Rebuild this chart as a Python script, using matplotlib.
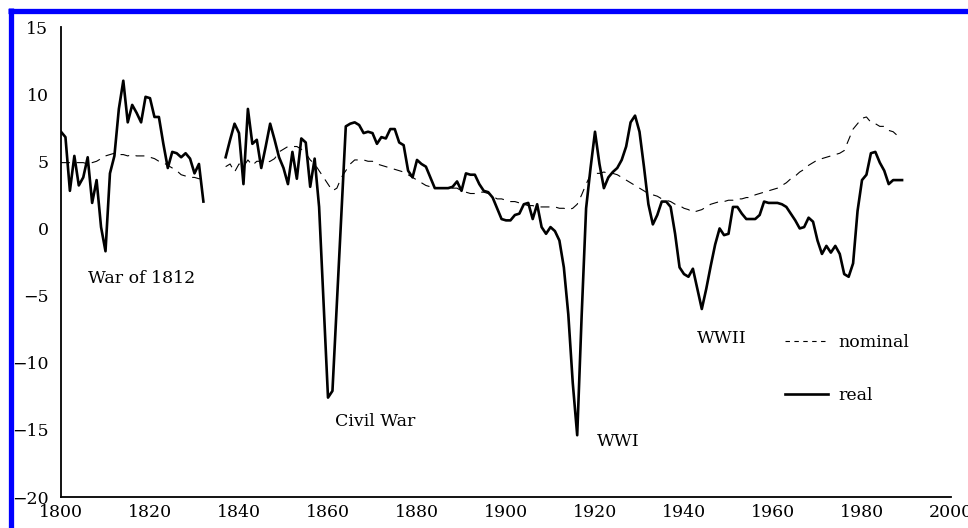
import numpy as np
import matplotlib
matplotlib.use("Agg")
import matplotlib.pyplot as plt
from matplotlib.lines import Line2D

# Early period, 1800-1832
years_early = list(range(1800, 1833))
real_early = [7.2, 6.8, 2.8, 5.4, 3.2, 3.8, 5.3, 1.9, 3.6, 0.1,
              -1.7, 4.1, 5.4, 8.9, 11.0, 7.9, 9.2, 8.6, 7.9, 9.8,
              9.7, 8.3, 8.3, 6.3, 4.5, 5.7, 5.6, 5.3, 5.6, 5.2,
              4.1, 4.8, 2.0]
nominal_early = [4.9, 4.9, 4.9, 4.9, 4.9, 4.9, 4.8, 4.9, 5.0, 5.2,
                 5.4, 5.5, 5.6, 5.5, 5.5, 5.4, 5.5, 5.4, 5.4, 5.4,
                 5.3, 5.2, 5.0, 4.9, 4.7, 4.5, 4.3, 4.0, 3.9, 3.8,
                 3.8, 3.7, 3.7]

# Later period: real 1837-1989, nominal 1837-1988
years_real_late = list(range(1837, 1990))
real_late = [5.3, 6.6, 7.8,                                          # 1837-39
             7.1, 3.3, 8.9, 6.3, 6.6, 4.5, 6.1, 7.8, 6.6, 5.3,       # 1840s
             4.5, 3.3, 5.7, 3.7, 6.7, 6.4, 3.1, 5.2, 1.6, -5.5,      # 1850s
             -12.6, -12.1, -5.5, 1.0, 7.6, 7.8, 7.9, 7.7, 7.1, 7.2,  # 1860s
             7.1, 6.3, 6.8, 6.7, 7.4, 7.4, 6.4, 6.2, 4.3, 3.8,       # 1870s
             5.1, 4.8, 4.6, 3.8, 3.0, 3.0, 3.0, 3.0, 3.1, 3.5,       # 1880s
             2.8, 4.1, 4.0, 4.0, 3.3, 2.8, 2.7, 2.3, 1.5, 0.7,       # 1890s
             0.6, 0.6, 1.0, 1.1, 1.8, 1.9, 0.7, 1.8, 0.1, -0.4,      # 1900s
             0.1, -0.2, -0.9, -2.9, -6.4, -11.5, -15.4, -6.5, 1.5, 4.5,  # 1910s
             7.2, 4.8, 3.0, 3.8, 4.2, 4.5, 5.1, 6.1, 7.9, 8.4,       # 1920s
             7.2, 4.6, 1.8, 0.3, 1.0, 2.0, 2.0, 1.6, -0.4, -2.9,     # 1930s
             -3.4, -3.6, -3.0, -4.5, -6.0, -4.5, -2.8, -1.2, 0.0, -0.5,  # 1940s
             -0.4, 1.6, 1.6, 1.1, 0.7, 0.7, 0.7, 1.0, 2.0, 1.9,      # 1950s
             1.9, 1.9, 1.8, 1.6, 1.1, 0.6, 0.0, 0.1, 0.8, 0.5,       # 1960s
             -0.9, -1.9, -1.3, -1.8, -1.3, -1.9, -3.4, -3.6, -2.6, 1.3,  # 1970s
             3.6, 4.0, 5.6, 5.7, 4.9, 4.3, 3.3, 3.6, 3.6, 3.6]       # 1980s
years_nominal_late = list(range(1837, 1989))
nominal_late = [4.6, 4.8, 4.2,
                4.8, 4.6, 5.1, 4.7, 5.0, 5.0, 4.9, 5.0, 5.2, 5.7,
                5.9, 6.1, 6.1, 6.1, 5.9, 5.6, 5.1, 4.8, 4.3, 3.8,
                3.3, 2.8, 3.0, 3.8, 4.3, 4.8, 5.1, 5.1, 5.1, 5.0,
                5.0, 4.8, 4.7, 4.6, 4.5, 4.4, 4.3, 4.2, 4.0, 3.8,
                3.6, 3.4, 3.2, 3.1, 3.0, 3.0, 3.0, 3.0, 3.0, 3.0,
                2.8, 2.7, 2.6, 2.6, 2.7, 2.7, 2.6, 2.4, 2.2, 2.2,
                2.1, 2.0, 2.0, 1.9, 1.8, 1.7, 1.7, 1.6, 1.6, 1.6,
                1.6, 1.6, 1.5, 1.5, 1.4, 1.5, 1.8, 2.5, 3.3, 4.0,
                4.1, 4.1, 4.2, 4.1, 4.1, 4.0, 3.8, 3.6, 3.4, 3.2,
                3.0, 2.8, 2.6, 2.5, 2.4, 2.2, 2.1, 2.0, 1.8, 1.7,
                1.5, 1.4, 1.2, 1.3, 1.4, 1.6, 1.8, 1.9, 2.0, 2.0,
                2.1, 2.1, 2.2, 2.2, 2.3, 2.3, 2.5, 2.6, 2.7, 2.8,
                2.9, 3.0, 3.2, 3.4, 3.7, 3.9, 4.2, 4.4, 4.7, 4.9,
                5.1, 5.2, 5.3, 5.4, 5.5, 5.6, 5.8, 6.6, 7.4, 7.8,
                8.2, 8.3, 7.9, 7.8, 7.6, 7.6, 7.3, 7.2, 6.9]

# war labels: (text, year, value)
war_labels = [("War of 1812", 1806, -3.7),
              ("Civil War", 1861.5, -14.4),
              ("WWI", 1920.5, -15.9),
              ("WWII", 1943, -8.2)]

plt.rcParams['font.family'] = ['DejaVu Serif']
plt.rcParams['font.size'] = 12.5

fig = plt.figure(figsize=(9.68, 5.28), dpi=100)
ax = fig.add_axes([61 / 968, 1 - 497 / 528, 890 / 968, 470 / 528])

dash = (0, (8, 6))
ax.plot(years_early, nominal_early, color='black', lw=0.8, ls=dash)
ax.plot(years_nominal_late, nominal_late, color='black', lw=0.8, ls=dash)
ax.plot(years_early, real_early, color='black', lw=1.9)
ax.plot(years_real_late, real_late, color='black', lw=1.9)

for text, yr, val in war_labels:
    ax.text(yr, val, text, ha='left', va='center', fontsize=12.5)

ax.set_xlim(1800, 2000)
ax.set_ylim(-20, 15)
ax.set_xticks(np.arange(1800, 2001, 20))
ax.set_yticks(np.arange(-20, 16, 5))
ax.set_yticklabels([str(v).replace('-', '\u2212') for v in range(-20, 16, 5)])
ax.tick_params(length=0)
ax.tick_params(axis='x', pad=5)
ax.tick_params(axis='y', pad=9)
for side in ['top', 'right']:
    ax.spines[side].set_visible(False)
for side in ['left', 'bottom']:
    ax.spines[side].set_linewidth(1.3)

handles = [Line2D([], [], color='black', lw=0.8, ls=(0, (4, 4))),
           Line2D([], [], color='black', lw=1.9)]
ax.legend(handles, ['nominal', 'real'], frameon=False, loc='upper left',
          bbox_to_anchor=(0.813, 0.347), borderpad=0, borderaxespad=0,
          handlelength=2.5, handletextpad=0.6, labelspacing=2.1)

# blue frame on top and left edge
fig.add_artist(Line2D([8 / 968, 1], [1 - 10.5 / 528, 1 - 10.5 / 528],
                      color='#0000ff', lw=3.8, solid_capstyle='butt',
                      transform=fig.transFigure))
fig.add_artist(Line2D([10.5 / 968, 10.5 / 968], [0, 1 - 8 / 528],
                      color='#0000ff', lw=3.8, solid_capstyle='butt',
                      transform=fig.transFigure))

fig.savefig('out.png', dpi=100)
